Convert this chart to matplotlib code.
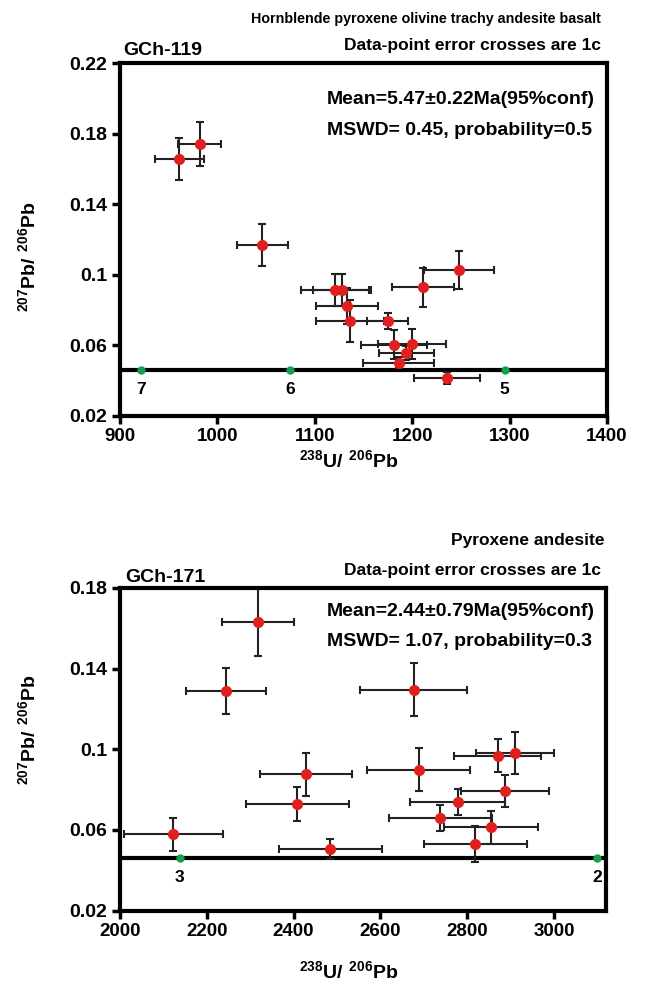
import matplotlib.pyplot as plt

plt.rcParams['font.family'] = ['Liberation Sans', 'DejaVu Sans']
plt.rcParams['font.weight'] = 'bold'
plt.rcParams['mathtext.fontset'] = 'custom'
plt.rcParams['mathtext.rm'] = 'Liberation Sans:bold'
plt.rcParams['mathtext.bf'] = 'Liberation Sans:bold'

# GCh-119 (238U/206Pb, err, 207Pb/206Pb, err)
u_119    = [961, 982, 1046, 1121, 1128, 1133, 1136, 1175, 1181, 1200, 1194, 1186, 1236, 1211, 1248]
u_119_e  = [25, 22, 26, 35, 30, 32, 35, 21, 34, 35, 28, 36, 34, 32, 36]
pb_119   = [0.1656, 0.174, 0.1169, 0.0912, 0.0912, 0.0823, 0.074, 0.074, 0.0604, 0.061, 0.0555, 0.0502, 0.0415, 0.0929, 0.1027]
pb_119_e = [0.012, 0.0125, 0.012, 0.009, 0.009, 0.010, 0.012, 0.0045, 0.0083, 0.0085, 0.004, 0.003, 0.0035, 0.011, 0.011]

# GCh-171
u_171    = [2318, 2244, 2677, 2428, 2409, 2123, 2485, 2688, 2870, 2911, 2887, 2778, 2738, 2855, 2819]
u_171_e  = [84, 92, 123, 106, 118, 114, 118, 118, 100, 90, 101, 110, 119, 108, 118]
pb_171   = [0.1631, 0.1289, 0.1296, 0.0876, 0.0729, 0.0579, 0.0507, 0.0898, 0.0968, 0.0983, 0.0793, 0.0737, 0.0658, 0.0613, 0.0531]
pb_171_e = [0.0168, 0.0115, 0.0132, 0.0107, 0.0082, 0.0081, 0.005, 0.0107, 0.0082, 0.0103, 0.008, 0.0065, 0.0065, 0.0083, 0.0088]

# concordia ages (Ma) along the flat line
conc_pb = 0.046
ages_119 = ['7', '6', '5']
ages_119_u = [922, 1075, 1295]
ages_171 = ['3', '2']
ages_171_u = [2138, 3100]

fig = plt.figure(figsize=(6.5, 9.86), dpi=100)
ax1 = fig.add_axes([0.1846, 0.5781, 0.7492, 0.358])
ax2 = fig.add_axes([0.1846, 0.0764, 0.7477, 0.3273])


def draw(ax, u, ue, pb, pbe, ages, ages_u, xlim, xticks, ylim, yticks, mean, mswd, ty):
    ax.axhline(conc_pb, color='black', lw=3, zorder=1)
    ax.errorbar(u, pb, xerr=ue, yerr=pbe, fmt='none', ecolor='#222222',
                elinewidth=1.5, capsize=3, capthick=1.5, zorder=2)
    ax.plot(u, pb, 'o', color='#e0201c', ms=7, zorder=3)
    ax.plot(ages_u, [conc_pb] * len(ages_u), 'o', color='#12a04a', ms=5, zorder=4)
    for a, x in zip(ages, ages_u):
        ax.annotate(a, (x, conc_pb), xytext=(0, -14), textcoords='offset points',
                    ha='center', va='center', fontsize=12.5, fontweight='bold')
    ax.set_xlim(*xlim)
    ax.set_ylim(*ylim)
    ax.set_xticks(xticks)
    ax.set_yticks(yticks)
    ax.set_yticklabels([('%g' % v) for v in yticks])
    for s in ax.spines.values():
        s.set_linewidth(3)
    ax.tick_params(direction='out', length=6, width=2.5, pad=3)
    ax.tick_params(axis='x', labelsize=13.5)
    ax.tick_params(axis='y', labelsize=14)
    ax.text(0.425, ty[0], mean, transform=ax.transAxes, fontsize=14,
            fontweight='bold', va='center')
    ax.text(0.425, ty[1], mswd, transform=ax.transAxes, fontsize=14,
            fontweight='bold', va='center')


draw(ax1, u_119, u_119_e, pb_119, pb_119_e, ages_119, ages_119_u,
     (900, 1400), [900, 1000, 1100, 1200, 1300, 1400],
     (0.02, 0.22), [0.02, 0.06, 0.1, 0.14, 0.18, 0.22],
     'Mean=5.47\u00b10.22Ma(95%conf)', 'MSWD= 0.45, probability=0.5', (0.898, 0.81))
draw(ax2, u_171, u_171_e, pb_171, pb_171_e, ages_171, ages_171_u,
     (2000, 3120), [2000, 2200, 2400, 2600, 2800, 3000],
     (0.02, 0.18), [0.02, 0.06, 0.1, 0.14, 0.18],
     'Mean=2.44\u00b10.79Ma(95%conf)', 'MSWD= 1.07, probability=0.3', (0.926, 0.833))

ylab = r'$^{207}\mathrm{Pb/\ }^{206}\mathrm{Pb}$'
xlab = r'$^{238}\mathrm{U/\ }^{206}\mathrm{Pb}$'
ax1.set_ylabel(ylab, fontsize=14)
ax1.yaxis.set_label_coords(-0.165, 0.45)
ax2.set_ylabel(ylab, fontsize=14)
ax2.yaxis.set_label_coords(-0.165, 0.56)
ax1.set_xlabel(xlab, fontsize=14)
ax1.xaxis.set_label_coords(0.47, -0.095)
ax2.set_xlabel(xlab, fontsize=14)
ax2.xaxis.set_label_coords(0.47, -0.155)

fig.text(0.925, 0.9807, 'Hornblende pyroxene olivine trachy andesite basalt',
         ha='right', va='center', fontsize=10.3, fontweight='bold')
fig.text(0.924, 0.954, 'Data-point error crosses are 1c', ha='right', va='center',
         fontsize=12.5, fontweight='bold')
fig.text(0.189, 0.949, 'GCh-119', ha='left', va='center', fontsize=14, fontweight='bold')
fig.text(0.93, 0.452, 'Pyroxene andesite', ha='right', va='center',
         fontsize=12.5, fontweight='bold')
fig.text(0.924, 0.421, 'Data-point error crosses are 1c', ha='right', va='center',
         fontsize=12.5, fontweight='bold')
fig.text(0.192, 0.414, 'GCh-171', ha='left', va='center', fontsize=14, fontweight='bold')

plt.savefig('out.png', dpi=100)
